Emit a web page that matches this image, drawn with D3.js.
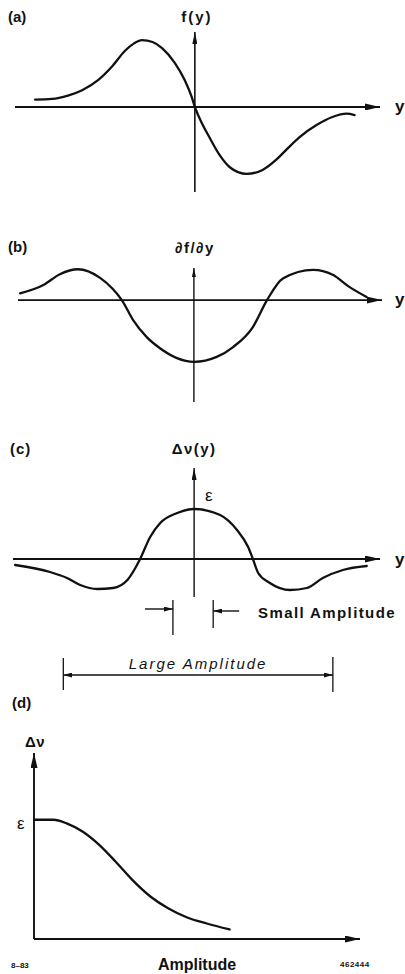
<!DOCTYPE html>
<html>
<head>
<meta charset="utf-8">
<script src="https://cdn.jsdelivr.net/npm/d3@7"></script>
<style>
  html, body { margin: 0; padding: 0; background: #fff; }
  svg { display: block; }
  text { font-family: "Liberation Sans", Arial, sans-serif; fill: #111; }
</style>
</head>
<body>
<svg id="fig" width="405" height="974"></svg>
<script>
// (a) f(y) - antisymmetric profile
const fX = [-3.02, -2.70, -2.40, -2.13, -1.83, -1.57, -1.32, -1.15, -1.0, -0.80, -0.62, -0.38, -0.19, -0.06, 0, 0.15, 0.28, 0.47, 0.66, 0.98, 1.28, 1.55, 1.74, 1.98, 2.30, 2.60, 2.87, 3.02];
const fY = [0.11, 0.12, 0.17, 0.25, 0.40, 0.60, 0.84, 0.95, 1.0, 0.97, 0.88, 0.66, 0.40, 0.15, 0, -0.27, -0.46, -0.72, -0.90, -1.0, -0.94, -0.78, -0.63, -0.45, -0.27, -0.15, -0.10, -0.12];

// (b) df/dy
const dfX = [-3.28, -2.85, -2.53, -2.19, -1.77, -1.53, -1.36, -1.15, -0.89, -0.64, -0.32, 0, 0.43, 0.74, 1.11, 1.38, 1.68, 2.25, 2.62, 2.94, 3.26];
const dfY = [0.11, 0.24, 0.42, 0.50, 0.36, 0.18, 0, -0.32, -0.60, -0.78, -0.94, -1.0, -0.92, -0.76, -0.44, 0, 0.35, 0.49, 0.41, 0.21, 0.05];

// (c) delta nu (y)
const dnuX = [-3.38, -2.72, -2.40, -2.15, -1.83, -1.53, -1.26, -1.11, -1.02, -0.83, -0.64, -0.32, 0, 0.49, 0.81, 1.02, 1.11, 1.21, 1.43, 1.81, 2.13, 2.43, 2.81, 3.26];
const dnuY = [-0.12, -0.26, -0.38, -0.52, -0.60, -0.58, -0.42, -0.18, 0, 0.44, 0.72, 0.92, 1.0, 0.88, 0.58, 0.24, 0, -0.28, -0.48, -0.62, -0.58, -0.38, -0.22, -0.14];
const smallAmp = [-0.40, 0.36];
const largeAmp = [-2.47, 2.62];

// (d) delta nu vs amplitude
const ampX = [0, 0.06, 0.10, 0.15, 0.20, 0.25, 0.30, 0.36, 0.41, 0.47, 0.53, 0.60];
const ampY = [1.0, 1.0, 0.97, 0.90, 0.79, 0.65, 0.50, 0.35, 0.26, 0.18, 0.13, 0.08];

const svg = d3.select("#fig");
const ink = "#111";

// arrowheads
const defs = svg.append("defs");
function marker(id, len, wid) {
  defs.append("marker")
    .attr("id", id)
    .attr("markerUnits", "userSpaceOnUse")
    .attr("markerWidth", len).attr("markerHeight", wid)
    .attr("refX", len).attr("refY", wid / 2)
    .attr("orient", "auto")
    .append("path")
    .attr("d", `M0,0L${len},${wid / 2}L0,${wid}Z`)
    .attr("fill", ink);
}
marker("arBig", 15, 7);
marker("arMid", 12, 5);
marker("arSmall", 9, 4);
marker("arDim", 9, 5);

function seg(x1, y1, x2, y2, m, w) {
  const l = svg.append("line")
    .attr("x1", x1).attr("y1", y1).attr("x2", x2).attr("y2", y2)
    .attr("stroke", ink).attr("stroke-width", w || 1.6);
  if (m) l.attr("marker-end", `url(#${m})`);
  return l;
}

function curve(xs, ys, x, y) {
  const line = d3.line()
    .x(i => x(xs[i])).y(i => y(ys[i]))
    .curve(d3.curveMonotoneX);
  svg.append("path")
    .attr("d", line(d3.range(xs.length)))
    .attr("fill", "none")
    .attr("stroke", ink)
    .attr("stroke-width", 2.3)
    .attr("stroke-linecap", "round");
}

function label(txt, x, y, size, opts) {
  opts = opts || {};
  return svg.append("text")
    .attr("x", x).attr("y", y)
    .attr("font-size", size)
    .attr("font-weight", opts.weight || "bold")
    .attr("font-style", opts.style || "normal")
    .attr("text-anchor", opts.anchor || "start")
    .attr("letter-spacing", opts.ls || 0)
    .text(txt);
}

// ---- (a)
const xA = d3.scaleLinear().domain([-3.4, 3.5]).range([15, 380]);
const yA = d3.scaleLinear().domain([-1.27, 1.12]).range([192, 32]);
seg(xA.range()[0], yA(0), xA.range()[1], yA(0), "arBig", 1.8);
seg(xA(0), yA.range()[0], xA(0), yA.range()[1], "arMid", 1.6);
curve(fX, fY, xA, yA);
label("(a)", 8, 22, 15);
label("f(y)", xA(0) + 2, 22, 15, { anchor: "middle", ls: 2 });
label("y", 395, 112, 17);

// ---- (b)
const xB = d3.scaleLinear().domain([-3.32, 3.55]).range([18, 382]);
const yB = d3.scaleLinear().domain([-1.65, 0.52]).range([402, 268]);
seg(xB.range()[0], yB(0), xB.range()[1], yB(0), "arBig", 1.8);
seg(xB(0), yB.range()[0], xB(0), yB.range()[1], "arSmall", 1.4);
curve(dfX, dfY, xB, yB);
label("(b)", 8, 252, 15);
label("\u2202f/\u2202y", xB(0) + 1, 253, 15, { anchor: "middle", ls: 1.5 });
label("y", 395, 305, 17);

// ---- (c)
const xC = d3.scaleLinear().domain([-3.42, 3.51]).range([13, 380]);
const yC = d3.scaleLinear().domain([-0.76, 1.82]).range([597, 468]);
seg(xC.range()[0], yC(0), xC.range()[1], yC(0), "arBig", 1.8);
seg(xC(0), yC.range()[0], xC(0), yC.range()[1], "arMid", 1.4);
curve(dnuX, dnuY, xC, yC);
label("(c)", 10, 454, 15, { ls: 1 });
label("\u0394\u03bd(y)", xC(0), 454, 15, { anchor: "middle", ls: 1.5 });
label("\u03b5", 205, 501, 17, { weight: "normal" });
label("y", 395, 565, 17);

// dimension marks: small amplitude
const sL = xC(smallAmp[0]), sR = xC(smallAmp[1]);
seg(sL, 600, sL, 635, null, 1.3);
seg(sR, 600, sR, 628, null, 1.3);
seg(sL - 28, 609, sL, 609, "arDim", 1.4);
seg(sR + 26, 611, sR, 611, "arDim", 1.4);
label("Small Amplitude", 258, 618, 15, { ls: 1.4 });

// dimension marks: large amplitude
const lL = xC(largeAmp[0]), lR = xC(largeAmp[1]);
seg(lL, 658, lL, 690, null, 1.3);
seg(lR, 657, lR, 692, null, 1.3);
seg((lL + lR) / 2, 675, lL, 675, "arDim", 1.4);
seg((lL + lR) / 2, 675, lR, 675, "arDim", 1.4);
label("Large Amplitude", (lL + lR) / 2, 669, 15, { anchor: "middle", style: "italic", weight: "normal", ls: 2 });

// ---- (d)
label("(d)", 12, 708, 15);
const xD = d3.scaleLinear().domain([0, 1]).range([34, 360]);
const yD = d3.scaleLinear().domain([0, 1.56]).range([939, 753]);
seg(xD(0), yD(0), xD(0), yD.range()[1], "arBig", 1.9);
seg(xD(0), yD(0), xD.range()[1], yD(0), "arBig", 1.9);
curve(ampX, ampY, xD, yD);
label("\u0394\u03bd", 25, 747, 15, { ls: 0.5 });
label("\u03b5", 17, yD(1) + 9, 17, { weight: "normal" });
label("Amplitude", xD(0.5), 970, 16, { anchor: "middle" });
label("8\u201383", 11, 968, 8);
label("462444", 340, 967, 8, { ls: 0.5 });
</script>
</body>
</html>
